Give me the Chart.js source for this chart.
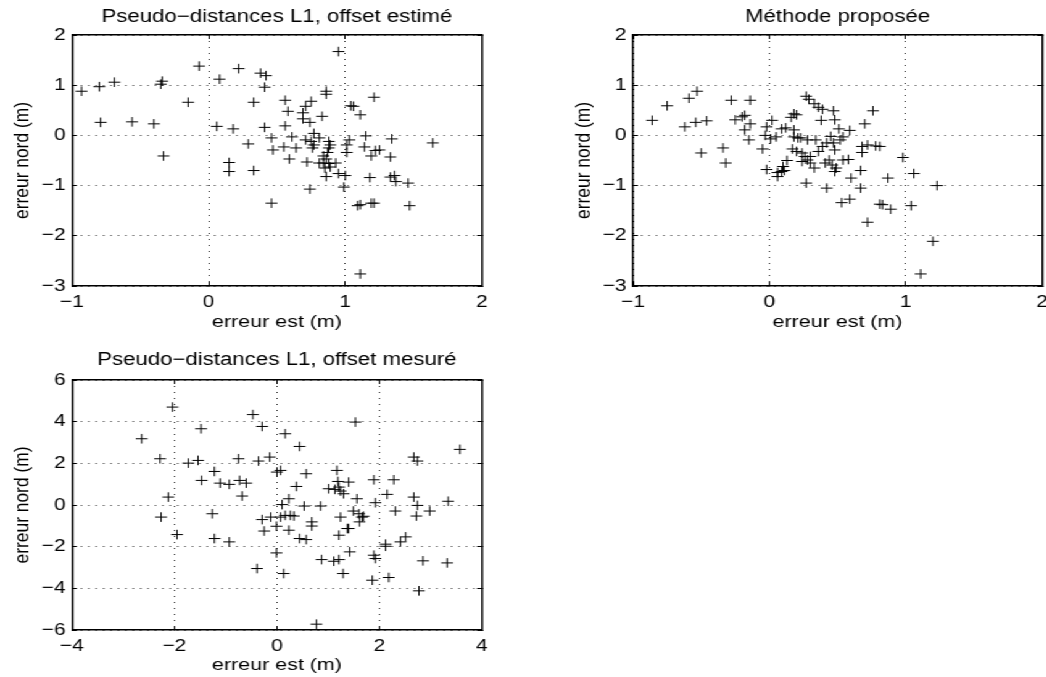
<!DOCTYPE html>
<html>
<head>
<meta charset="utf-8">
<script src="https://cdn.jsdelivr.net/npm/chart.js@4.4.0/dist/chart.umd.min.js"></script>
<style>
    html, body { margin: 0; padding: 0; background: #fff; overflow: hidden; width: 1046px; height: 677px; }
    /* the original figure is stretched horizontally, so the whole stage is too */
    #stage { position: absolute; left: 0; top: 0; width: 848px; height: 677px; transform: scaleX(1.234); transform-origin: 0 0; }
    #stage canvas { position: absolute; }
</style>
</head>
<body>
<div id="stage">
    <canvas id="chartEstime" width="410" height="340" style="left:0;top:0"></canvas>
    <canvas id="chartMethode" width="420" height="340" style="left:450px;top:0"></canvas>
    <canvas id="chartMesure" width="410" height="332" style="left:0;top:345px"></canvas>
</div>
<script>
// ===== DATA =====
const titleEstime = 'Pseudo\u2212distances L1, offset estimé';
const titleMethode = 'Méthode proposée';
const titleMesure = 'Pseudo\u2212distances L1, offset mesuré';
const labelEst = 'erreur est (m)';
const labelNord = 'erreur nord (m)';

const ticksTopX = [-1, 0, 1, 2];
const ticksTopY = [-3, -2, -1, 0, 1, 2];
const ticksBottomX = [-4, -2, 0, 2, 4];
const ticksBottomY = [-6, -4, -2, 0, 2, 4, 6];

// [est, nord] in metres
const offsetEstime = [
    [-0.93, 0.88], [-0.80, 0.97], [-0.69, 1.06], [-0.79, 0.26], [-0.56, 0.27], [-0.40, 0.23],
    [-0.35, 1.02], [-0.34, 1.08], [-0.33, -0.41], [-0.15, 0.66], [-0.07, 1.38], [0.08, 1.12],
    [0.06, 0.18], [0.22, 1.33], [0.18, 0.13], [0.15, -0.54], [0.15, -0.72], [0.29, -0.17],
    [0.33, 0.66], [0.33, -0.70], [0.38, 1.24], [0.42, 1.19], [0.41, 0.96], [0.41, 0.16],
    [0.46, -0.05], [0.47, -0.29], [0.46, -1.35], [0.95, 1.67], [0.86, 0.88], [0.86, 0.82],
    [0.56, 0.70], [0.75, 0.68], [0.71, 0.58], [0.58, 0.48], [0.69, 0.45], [0.83, 0.38],
    [0.69, 0.33], [0.74, 0.26], [1.04, 0.59], [1.06, 0.58], [1.11, 0.41], [1.21, 0.76],
    [0.56, 0.19], [0.61, -0.03], [0.64, -0.25], [0.55, -0.23], [0.59, -0.47], [0.71, -0.09],
    [0.75, -0.12], [0.77, -0.19], [0.76, -0.25], [0.81, -0.05], [0.77, 0.04], [0.88, -0.12],
    [0.89, -0.19], [0.88, -0.25], [0.87, -0.34], [0.84, -0.41], [0.86, -0.47], [0.72, -0.53],
    [0.81, -0.55], [0.84, -0.55], [0.88, -0.56], [0.93, -0.55], [0.89, -0.63], [0.85, -0.65],
    [0.86, -0.82], [0.95, -0.76], [1.00, -0.80], [0.74, -1.07], [0.99, -1.03], [1.03, -0.09],
    [1.01, -0.19], [1.01, -0.34], [1.15, -0.01], [1.14, -0.23], [1.19, -0.41], [1.22, -0.30],
    [1.25, -0.29], [1.34, -0.07], [1.33, -0.43], [1.18, -0.84], [1.33, -0.83], [1.36, -0.80],
    [1.37, -0.92], [1.46, -0.95], [1.64, -0.15], [1.09, -1.40], [1.11, -1.38], [1.19, -1.35],
    [1.21, -1.35], [1.47, -1.40], [1.11, -2.76]
];

const methodeProposee = [
    [-0.86, 0.30], [-0.75, 0.59], [-0.59, 0.74], [-0.53, 0.88], [-0.62, 0.17], [-0.54, 0.26],
    [-0.46, 0.29], [-0.50, -0.35], [-0.28, 0.70], [-0.14, 0.70], [-0.34, -0.25], [-0.32, -0.55],
    [-0.25, 0.31], [-0.20, 0.37], [-0.18, 0.40], [-0.14, 0.23], [-0.18, 0.11], [-0.15, -0.09],
    [-0.05, -0.27], [-0.02, 0.17], [0.02, 0.30], [-0.03, 0.00], [0.01, -0.07], [0.05, -0.03],
    [-0.02, -0.68], [0.06, -0.82], [0.09, -0.72], [0.06, -0.74], [0.11, -0.70], [0.09, 0.13],
    [0.12, 0.15], [0.16, 0.36], [0.18, 0.43], [0.20, 0.41], [0.18, 0.11], [0.18, -0.03],
    [0.21, -0.05], [0.13, -0.50], [0.10, -0.62], [0.17, -0.27], [0.20, -0.32], [0.23, -0.05],
    [0.24, -0.35], [0.24, -0.52], [0.26, -0.42], [0.28, -0.49], [0.30, -0.55], [0.27, 0.78],
    [0.29, 0.72], [0.28, -0.09], [0.30, -0.42], [0.27, -0.95], [0.33, -0.65], [0.34, -0.09],
    [0.33, 0.63], [0.36, 0.56], [0.39, 0.52], [0.36, -0.32], [0.38, 0.30], [0.39, -0.22],
    [0.42, -0.15], [0.42, -1.05], [0.47, 0.49], [0.48, 0.31], [0.41, -0.55], [0.44, -0.49],
    [0.46, -0.59], [0.49, -0.65], [0.48, -0.72], [0.45, -0.02], [0.47, -0.15], [0.52, -0.09],
    [0.51, 0.13], [0.59, 0.10], [0.54, -0.03], [0.48, -0.29], [0.54, -0.49], [0.58, -0.48],
    [0.60, -0.85], [0.67, -0.70], [0.67, -1.05], [0.53, -1.34], [0.59, -1.27], [0.70, 0.23],
    [0.76, 0.49], [0.68, -0.22], [0.72, -0.19], [0.78, -0.21], [0.81, -0.22], [0.68, -0.34],
    [0.72, -1.73], [0.81, -1.37], [0.83, -1.38], [0.89, -1.47], [0.87, -0.85], [0.98, -0.44],
    [1.06, -0.76], [1.23, -1.00], [1.04, -1.40], [1.20, -2.11], [1.11, -2.76]
];

const offsetMesure = [
    [-2.04, 4.70], [-2.64, 3.18], [-2.28, 2.22], [-2.12, 0.38], [-2.26, -0.58], [-1.95, -1.42],
    [-1.73, 2.01], [-1.54, 2.14], [-1.48, 3.66], [-1.47, 1.18], [-1.22, 1.61], [-1.26, -0.42],
    [-1.22, -1.61], [-1.11, 1.05], [-0.93, 0.99], [-0.93, -1.77], [-0.75, 2.22], [-0.73, 1.18],
    [-0.60, 1.05], [-0.68, 0.43], [-0.47, 4.34], [-0.29, 3.77], [-0.36, 2.11], [-0.14, 2.30],
    [0.00, 1.58], [0.07, 1.66], [-0.39, -3.05], [-0.29, -0.70], [-0.25, -1.25], [-0.12, -0.58],
    [0.07, -0.58], [-0.01, -1.02], [0.10, 0.02], [0.16, -0.50], [0.26, -0.50], [0.33, -0.53],
    [0.23, -1.21], [0.23, 0.30], [0.16, 3.42], [-0.01, -2.30], [0.13, -3.29], [0.38, 0.89],
    [0.44, 2.81], [0.44, -1.61], [0.57, -1.66], [0.53, -0.05], [0.57, 1.50], [0.68, -0.81],
    [0.68, -1.01], [0.85, -0.05], [0.87, -2.62], [0.77, -5.72], [1.13, 0.75], [1.17, 1.66],
    [1.19, 1.13], [1.21, 0.86], [1.24, 0.67], [1.30, 0.54], [1.40, 1.10], [1.01, 0.78],
    [1.11, -2.70], [1.21, -2.62], [1.29, -3.29], [1.21, -1.45], [1.24, -0.58], [1.37, -1.13],
    [1.40, -1.13], [1.42, -2.25], [1.53, 3.98], [1.56, 0.30], [1.49, -0.29], [1.60, -0.42],
    [1.66, -0.58], [1.69, -0.54], [1.61, -0.81], [1.86, -3.61], [1.89, 1.21], [1.92, 0.11],
    [1.89, -2.41], [1.92, -2.57], [2.12, -1.98], [2.12, -1.88], [2.15, 0.51], [2.18, -3.48],
    [2.28, 1.21], [2.31, -0.29], [2.41, -1.77], [2.51, -1.53], [2.67, 2.30], [2.74, 2.11],
    [2.67, 0.38], [2.74, -0.02], [2.72, -0.53], [2.77, -4.12], [2.85, -2.68], [2.98, -0.29],
    [3.32, -2.78], [3.34, 0.18], [3.57, 2.67]
];

// ===== STYLE =====
const FAMILY = "'Liberation Sans', Arial, Helvetica, sans-serif";
const TICK_FONT = { family: FAMILY, size: 17, weight: 'normal' };
const LABEL_FONT = { family: FAMILY, size: 17.4, weight: 'normal' };
const TITLE_FONT = { family: FAMILY, size: 18, weight: 'normal' };
const INK = '#000';

function formatTick(value) {
    return String(value).replace('-', '\u2212');
}

function fixedTicks(values) {
    return scale => { scale.ticks = values.map(v => ({ value: v })); };
}

// ===== AXES =====
function mainAxis(position, values, label, box) {
    const horizontal = position === 'bottom';
    return {
        type: 'linear',
        position: position,
        min: values[0],
        max: values[values.length - 1],
        afterBuildTicks: fixedTicks(values),
        afterFit: scale => {
            if (horizontal) scale.height = box.xAxisHeight;
            else scale.width = box.yAxisWidth;
        },
        ticks: {
            font: TICK_FONT,
            color: INK,
            padding: horizontal ? 9.8 : 9.2,
            autoSkip: false,
            maxRotation: 0,
            callback: formatTick
        },
        grid: {
            color: 'rgba(0, 0, 0, 0.85)',
            lineWidth: 1,
            tickLength: -4,
            tickColor: INK,
            tickWidth: 1,
            tickBorderDash: []
        },
        border: { display: true, color: INK, width: 1.5, dash: [1, 5] },
        title: {
            display: true,
            text: label,
            font: LABEL_FONT,
            color: INK,
            padding: horizontal ? { top: 0, bottom: box.xTitlePad } : { top: box.yTitlePad, bottom: 0 }
        }
    };
}

function boxAxis(position, values) {
    const horizontal = position === 'top';
    return {
        type: 'linear',
        position: position,
        min: values[0],
        max: values[values.length - 1],
        afterBuildTicks: fixedTicks(values),
        afterFit: scale => {
            if (horizontal) scale.height = 0;
            else scale.width = 0;
        },
        ticks: { display: false },
        grid: { drawOnChartArea: false, color: INK, tickLength: -4, tickWidth: 1 },
        border: { display: true, color: INK, width: 1.5 }
    };
}

// ===== CHARTS =====
function createScatter(canvasId, points, title, ticksX, ticksY, box) {
    const ctx = document.getElementById(canvasId);

    return new Chart(ctx, {
        type: 'scatter',
        data: {
            datasets: [{
                data: points.map(p => ({ x: p[0], y: p[1] })),
                pointStyle: 'cross',
                pointRadius: 4.8,
                pointHoverRadius: 4.8,
                borderColor: INK,
                backgroundColor: INK,
                borderWidth: 1
            }]
        },
        options: {
            responsive: false,
            animation: false,
            events: [],
            layout: { padding: { left: 0, top: 0, bottom: 0, right: box.padRight } },
            scales: {
                x: mainAxis('bottom', ticksX, labelEst, box),
                y: mainAxis('left', ticksY, labelNord, box),
                x2: boxAxis('top', ticksX),
                y2: boxAxis('right', ticksY)
            },
            plugins: {
                legend: { display: false },
                tooltip: { enabled: false },
                title: {
                    display: true,
                    text: title,
                    fullSize: false,
                    font: TITLE_FONT,
                    color: INK,
                    padding: { top: box.titleTop, bottom: box.titleBottom }
                }
            }
        }
    });
}

createScatter('chartEstime', offsetEstime, titleEstime, ticksTopX, ticksTopY, {
    yAxisWidth: 58.3, xAxisHeight: 54, padRight: 19.4,
    titleTop: 6.2, titleBottom: 7.2, yTitlePad: 7.4, xTitlePad: 7.6
});

createScatter('chartMethode', methodeProposee, titleMethode, ticksTopX, ticksTopY, {
    yAxisWidth: 63.0, xAxisHeight: 54, padRight: 25.6,
    titleTop: 6.2, titleBottom: 7.2, yTitlePad: 12.9, xTitlePad: 7.6
});

createScatter('chartMesure', offsetMesure, titleMesure, ticksBottomX, ticksBottomY, {
    yAxisWidth: 58.3, xAxisHeight: 47, padRight: 19.4,
    titleTop: 4.2, titleBottom: 9.2, yTitlePad: 7.4, xTitlePad: 1.6
});
</script>
</body>
</html>
